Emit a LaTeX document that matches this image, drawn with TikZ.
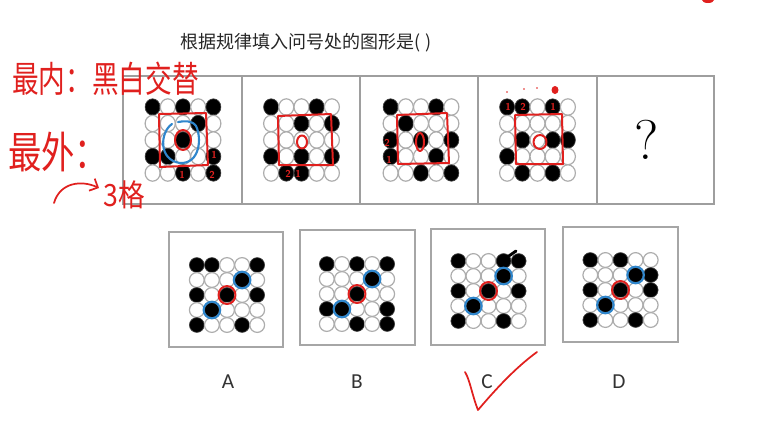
\documentclass[tikz,border=0pt]{standalone}
\usepackage{fontspec}
\newfontfamily\cjk{Noto Sans CJK SC}
\newfontfamily\lab{Carlito}
\usetikzlibrary{arrows.meta}
\definecolor{ink}{HTML}{E0201E}
\definecolor{bink}{HTML}{2F86CC}
\tikzset{
  frame/.style={draw=black!38, line width=1.1pt},
  optbox/.style={draw=black!35, line width=1.2pt},
  blk/.style={fill=black, draw=black!75, line width=0.5pt},
  wht/.style={fill=white, draw=black!32, line width=0.9pt},
  redpen/.style={draw=ink, line width=1.5pt, line cap=round, line join=round},
  bluepen/.style={draw=bink, line width=1.6pt, line cap=round},
  hand/.style={text=ink, font=\cjk\fontsize{20}{20}\selectfont, inner sep=0pt},
  num/.style={text=ink, font=\sffamily\bfseries\fontsize{7.5}{7.5}\selectfont, inner sep=0pt},
  optlabel/.style={text=black!80, font=\lab\fontsize{16}{16}\selectfont, inner sep=0pt}
}
% #1 cx, #2 cy, #3 dx, #4 dy, #5 rx, #6 ry, #7 pattern
\newcommand\dotgrid[7]{%
  \foreach \v [count=\i from 0] in {#7}{%
    \pgfmathtruncatemacro\cc{mod(\i,5)}%
    \pgfmathtruncatemacro\rr{int(\i/5)}%
    \ifnum\v=1
      \path[blk] ({#1+(\cc-2)*#3},{#2+(\rr-2)*#4}) ellipse [x radius=#5, y radius=#6];
    \else
      \path[wht] ({#1+(\cc-2)*#3},{#2+(\rr-2)*#4}) ellipse [x radius=#5, y radius=#6];
    \fi
  }%
}
\begin{document}
\begin{tikzpicture}[x=0.75pt, y=-0.75pt]
\useasboundingbox (0,0) rectangle (767,430);

% title
\node[anchor=west, inner sep=0pt, font=\cjk\fontsize{13.5}{13.5}\selectfont, text=black!85] (title) at (180,43) {根据规律填入问号处的图形是(\hspace{4pt})};

% top frame
\draw[frame] (123,76) rectangle (714,204);
\foreach \x in {242,360,478,597} \draw[frame] (\x,76) -- (\x,204);

% top grids
\dotgrid{183}{140}{15.2}{16.5}{7.5}{8.2}{1,0,1,0,1, 0,0,0,1,0, 0,0,1,0,0, 1,1,0,0,1, 0,0,1,0,1}
\dotgrid{301.5}{140}{15.2}{16.5}{7.5}{8.2}{1,0,0,1,0, 0,0,1,0,1, 0,0,0,0,0, 1,0,1,0,1, 0,1,1,0,0}
\dotgrid{421}{140}{15.2}{16.5}{7.5}{8.2}{1,0,0,1,0, 0,1,0,0,0, 1,0,1,0,1, 1,0,0,1,0, 0,0,1,0,1}
\dotgrid{537.5}{140}{15.2}{16.5}{7.5}{8.2}{1,1,0,1,0, 0,0,0,0,0, 0,1,0,1,1, 1,0,0,0,0, 0,1,0,1,0}

% question mark
\node[font=\fontsize{42}{42}\selectfont, inner sep=0pt] (qm) at (647,140) {?};

% option boxes
\draw[optbox] (169,232) rectangle (283,347);
\draw[optbox] (300,230) rectangle (415,345);
\draw[optbox] (431,229) rectangle (545,345);
\draw[optbox] (563,227) rectangle (678,342);

\dotgrid{227}{295}{15.1}{15}{7.4}{7.4}{1,1,0,0,1, 0,0,0,1,0, 1,0,1,0,1, 0,1,0,0,0, 1,0,0,1,0}
\dotgrid{357}{294}{15.1}{15}{7.4}{7.4}{1,0,1,0,1, 0,0,0,1,0, 0,0,1,0,0, 1,1,0,0,1, 0,0,1,0,1}
\dotgrid{488.5}{291}{15.1}{15}{7.4}{7.4}{1,0,0,1,1, 0,0,0,1,0, 1,0,1,0,1, 0,1,0,0,0, 1,0,0,1,0}
\dotgrid{620.5}{290}{15.1}{15}{7.4}{7.4}{1,0,1,0,0, 0,0,0,1,1, 1,0,1,0,1, 0,1,0,0,0, 1,0,0,1,0}

\node[optlabel] (la) at (228,382) {A};
\node[optlabel] (lb) at (357,382) {B};
\node[optlabel] (lc) at (487,382) {C};
\node[optlabel] (ld) at (619,382) {D};

% ===== handwritten annotations =====
\node[hand, anchor=west, yscale=1.35] (h1) at (12,79) {最内：黑白交替};
\node[hand, anchor=west, font=\cjk\fontsize{25}{25}\selectfont, yscale=1.3] (h2) at (8,152) {最外：};
\node[hand, anchor=west, font=\cjk\fontsize{20}{20}\selectfont, yscale=1.15] (h3) at (103,195) {3格};
\coordinate (a0) at (54,203);
\coordinate (a1) at (99,188);
\draw[redpen, line width=1.3pt, -{Straight Barb[length=5pt]}] (a0) .. controls (60,182) and (82,180) .. (a1);

% fig 1 marks
\draw[redpen] (159,114) -- (206,113) -- (208,165) -- (160,167) -- cycle;
\draw[redpen] (183,140) ellipse [x radius=8, y radius=10];
\draw[bluepen] (172,124) .. controls (160,132) and (158,160) .. (180,163) .. controls (200,164) and (202,138) .. (196,126) .. controls (192,120) and (184,121) .. (178,122);
\node[num] (n11) at (214,155) {1};
\node[num] (n12) at (212,175) {2};
\node[num] (n13) at (182,175) {1};

% fig 2 marks
\draw[redpen] (278,116) -- (331,114) -- (333,165) -- (279,165) -- cycle;
\draw[redpen] (302,142) ellipse [x radius=5, y radius=6.5];
\node[num] (n21) at (288,174) {2};
\node[num] (n22) at (298,174) {1};

% fig 3 marks
\draw[redpen] (397,115) -- (447,113) -- (449,163) -- (398,164) -- cycle;
\draw[redpen] (420,142) ellipse [x radius=4, y radius=9];
\node[num] (n31) at (387,143) {2};
\node[num] (n32) at (389,160) {1};

% fig 4 marks
\draw[redpen] (515,115) -- (562,114) -- (563,164) -- (516,164) -- cycle;
\draw[redpen] (540,142) ellipse [x radius=6.5, y radius=7];
\node[num] (n41) at (508,107) {1};
\node[num] (n42) at (523,107) {2};
\node[num] (n43) at (553,107) {1};
\fill[ink] (507,92) circle [radius=0.9];
\fill[ink] (524,89) circle [radius=0.9];
\fill[ink] (537,88) circle [radius=0.8];
\fill[ink] (555,90) ellipse [x radius=3.5, y radius=4];
\fill[ink] (708,0) ellipse [x radius=6, y radius=3];

% option marks
\foreach \cx/\cy in {227/295, 357/294, 488.5/291, 620.5/290}{
  \draw[redpen] (\cx,\cy) ellipse [x radius=8.5, y radius=9];
  \draw[bluepen] ({\cx+15.1},{\cy-15}) circle [radius=8.3];
  \draw[bluepen] ({\cx-15.1},{\cy+15}) circle [radius=8.3];
}
\draw[line width=2.2pt, line cap=round] (506,258) -- (516,251);

% check mark
\coordinate (c0) at (465,372);
\coordinate (c1) at (478,410);
\coordinate (c2) at (537,352);
\draw[redpen, line width=1.3pt] (c0) .. controls (470,380) and (472,395) .. (c1) .. controls (495,390) and (515,368) .. (c2);
\end{tikzpicture}
\end{document}
